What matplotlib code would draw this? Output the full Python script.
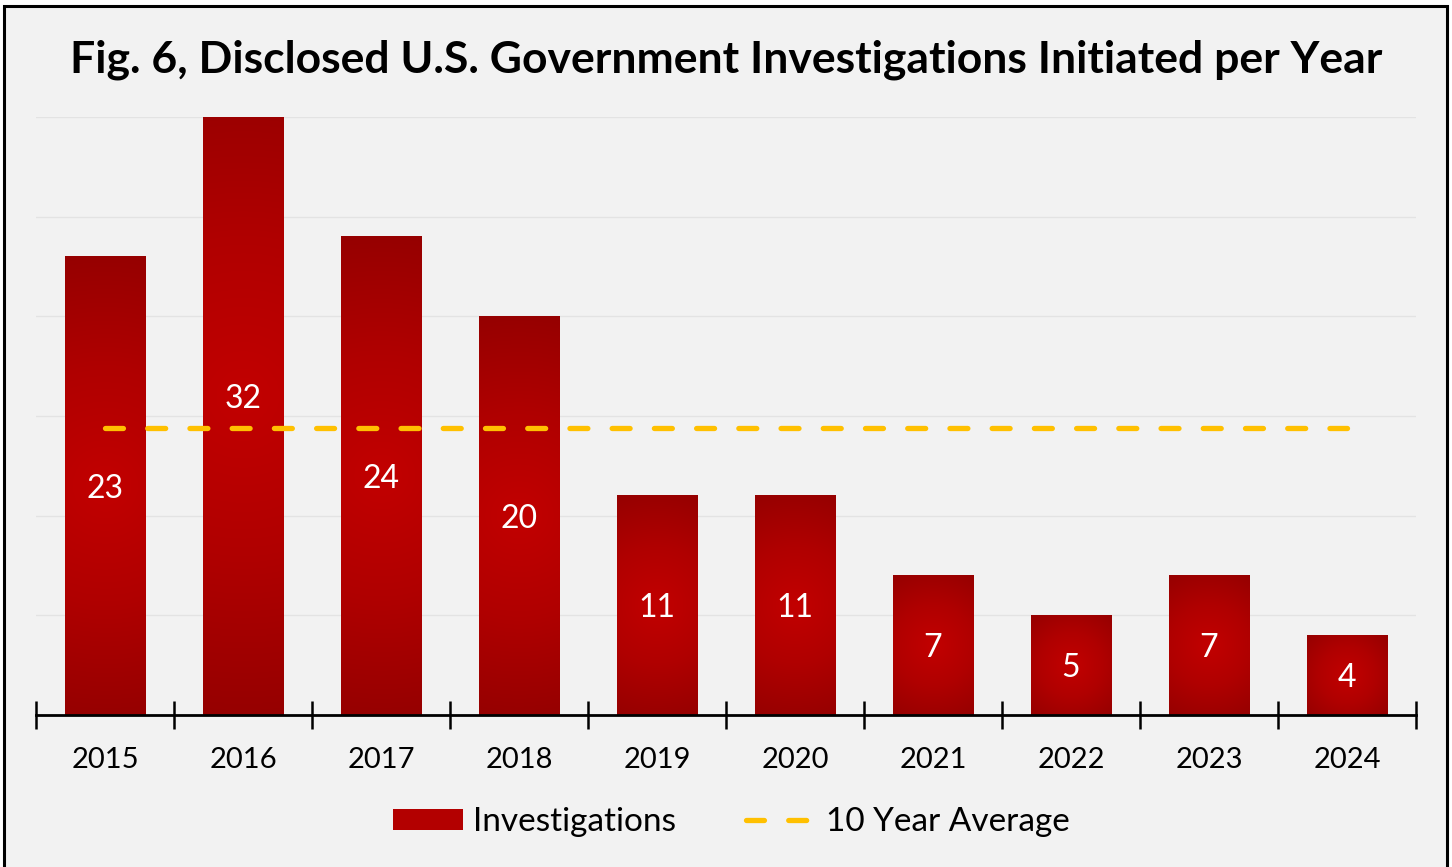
import numpy as np
import matplotlib
matplotlib.use("Agg")
import matplotlib.pyplot as plt
from matplotlib.patches import Rectangle
from matplotlib.colors import LinearSegmentedColormap
from matplotlib.lines import Line2D

years = ["2015", "2016", "2017", "2018", "2019", "2020", "2021", "2022", "2023", "2024"]
investigations = [23, 32, 24, 20, 11, 11, 7, 5, 7, 4]
ten_year_avg = [14.4] * len(years)

plt.rcParams["font.family"] = ["Lato", "DejaVu Sans"]

fig = plt.figure(figsize=(14.52, 8.67), dpi=100)
fig.patch.set_facecolor("white")
fig.patches.append(Rectangle((4 / 1452, -0.01), 1443 / 1452, 1 - 6 / 867 + 0.01,
                             transform=fig.transFigure, facecolor="#F2F2F2",
                             edgecolor="black", linewidth=2.2, zorder=-10))

ax = fig.add_axes([36 / 1452, 1 - 715 / 867, 1380 / 1452, 598 / 867])
ax.set_facecolor("none")

# gradient from the centre of each bar, dark towards the ends
cmap = LinearSegmentedColormap.from_list("red", ["#C20000", "#B00000", "#960000"])
bw = 0.58
px_per_cat = 138.0
px_per_unit = 598 / 30.0
x = np.arange(len(years))
for i, v in enumerate(investigations):
    w_px = bw * px_per_cat
    h_px = v * px_per_unit
    gx, gy = np.meshgrid(np.linspace(-w_px / 2, w_px / 2, 60),
                         np.linspace(-h_px / 2, h_px / 2, 300))
    grad = np.sqrt(gx ** 2 + gy ** 2) / np.sqrt((w_px / 2) ** 2 + (h_px / 2) ** 2)
    ax.imshow(grad, cmap=cmap, vmin=0, vmax=1, aspect="auto", interpolation="bilinear",
              extent=(x[i] - bw / 2, x[i] + bw / 2, 0, v), zorder=2)
    ax.text(x[i], v / 2, str(v), color="white", fontsize=23, ha="center",
            va="center_baseline", zorder=4)
ax.set_xlim(-0.5, len(years) - 0.5)
ax.set_ylim(0, 30)

ax.plot(x, ten_year_avg, color="#FFC000", linewidth=3.8, dashes=(3.4, 4.6),
        dash_capstyle="round", zorder=3)

for yv in [5, 10, 15, 20, 25, 30]:
    ax.axhline(yv, color="#E3E3E3", linewidth=1, zorder=1)

for s in ["top", "right", "left"]:
    ax.spines[s].set_visible(False)
ax.spines["bottom"].set_linewidth(2)
ax.spines["bottom"].set_zorder(5)
ax.set_yticks([])
ax.set_xticks(np.arange(-0.5, len(years)), minor=False)
ax.set_xticklabels([])
ax.tick_params(axis="x", which="major", direction="inout", length=20, width=1.8)
ax.set_xticks(x, minor=True)
ax.set_xticklabels(years, minor=True)
ax.tick_params(axis="x", which="minor", length=0, pad=23, labelsize=21)

fig.text(0.5, 1 - 60 / 867, "Fig. 6, Disclosed U.S. Government Investigations Initiated per Year",
         ha="center", va="center", fontsize=32, fontweight="bold")

handles = [Rectangle((0, 0), 1, 1, facecolor="#B30000"),
           Line2D([], [], color="#FFC000", linewidth=3.8, dashes=(3.4, 4.6), dash_capstyle="round")]
fig.legend(handles, ["Investigations", "10 Year Average"], loc="center",
           bbox_to_anchor=(731 / 1452, 1 - 822 / 867), ncol=2, frameon=False,
           fontsize=24, handlelength=2.1, handleheight=0.6, handletextpad=0.3,
           columnspacing=2.1)

fig.savefig("out.png", dpi=100, facecolor=fig.get_facecolor())
